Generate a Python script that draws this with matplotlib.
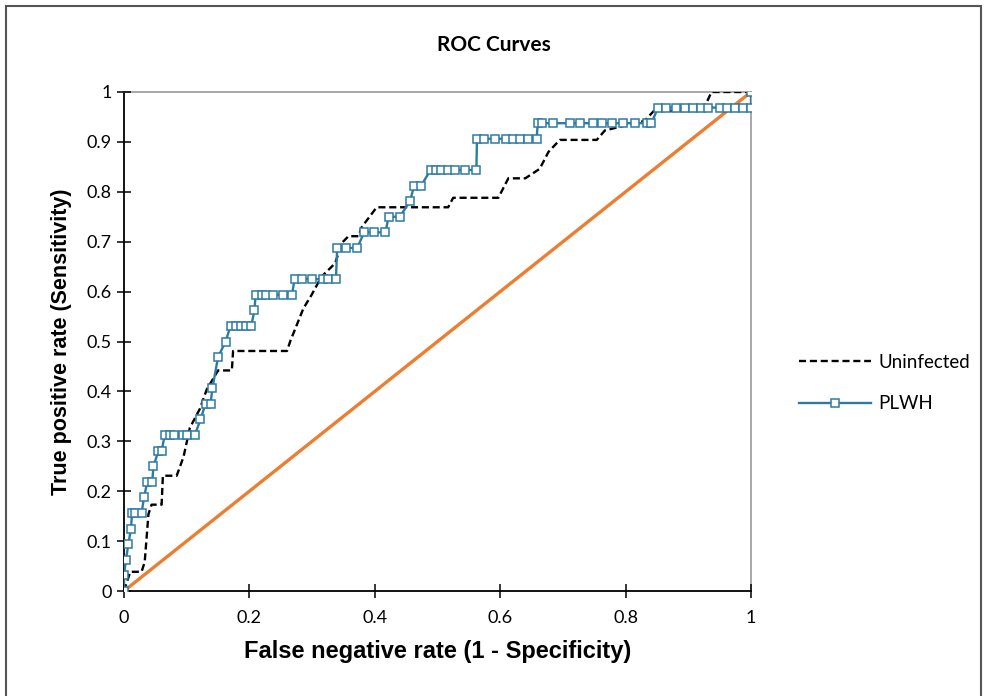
import matplotlib
matplotlib.use("Agg")
import matplotlib.pyplot as plt
from matplotlib.patches import Rectangle
from matplotlib.lines import Line2D
from matplotlib.ticker import FuncFormatter

# ---- data ------------------------------------------------------------------
plwh_fpr = [0.0, 0.0, 0.003, 0.007, 0.011,
            0.013, 0.018, 0.028, 0.032, 0.037, 0.045, 0.047, 0.055, 0.060,
            0.065, 0.073, 0.080, 0.094, 0.100, 0.113, 0.122, 0.130, 0.138,
            0.141, 0.150, 0.162, 0.170, 0.178, 0.186, 0.195, 0.203, 0.208,
            0.210, 0.220, 0.226, 0.238, 0.254, 0.268,
            0.272, 0.284, 0.300, 0.318, 0.326, 0.338,
            0.340, 0.354, 0.372, 0.383, 0.399, 0.417, 0.422, 0.440, 0.456,
            0.463, 0.474,
            0.489, 0.497, 0.506, 0.517, 0.528, 0.544, 0.562,
            0.563, 0.574, 0.592, 0.610, 0.620, 0.632, 0.645, 0.658,
            0.660, 0.666, 0.685, 0.711, 0.727, 0.748, 0.762, 0.778, 0.796,
            0.815, 0.834, 0.841,
            0.852, 0.865, 0.881, 0.895, 0.908, 0.921, 0.932, 0.951, 0.961,
            0.974, 0.988, 1.0, 1.0]
plwh_tpr = [0.0, 0.03125, 0.0625, 0.09375, 0.125,
            0.15625, 0.15625, 0.15625, 0.1875, 0.21875, 0.21875, 0.25, 0.28125, 0.28125,
            0.3125, 0.3125, 0.3125, 0.3125, 0.3125, 0.3125, 0.34375, 0.375, 0.375,
            0.40625, 0.46875, 0.5, 0.53125, 0.53125, 0.53125, 0.53125, 0.53125, 0.5625,
            0.59375, 0.59375, 0.59375, 0.59375, 0.59375, 0.59375,
            0.625, 0.625, 0.625, 0.625, 0.625, 0.625,
            0.6875, 0.6875, 0.6875, 0.71875, 0.71875, 0.71875, 0.75, 0.75, 0.78125,
            0.8125, 0.8125,
            0.84375, 0.84375, 0.84375, 0.84375, 0.84375, 0.84375, 0.84375,
            0.90625, 0.90625, 0.90625, 0.90625, 0.90625, 0.90625, 0.90625, 0.90625,
            0.9375, 0.9375, 0.9375, 0.9375, 0.9375, 0.9375, 0.9375, 0.9375, 0.9375,
            0.9375, 0.9375, 0.9375,
            0.96875, 0.96875, 0.96875, 0.96875, 0.96875, 0.96875, 0.96875, 0.96875, 0.96875,
            0.96875, 0.96875, 0.96875, 1.0]

unin_fpr = [0.0, 0.010, 0.028, 0.033, 0.039, 0.044, 0.060, 0.062, 0.084, 0.095,
            0.105, 0.121, 0.132, 0.150, 0.172, 0.174, 0.260, 0.265, 0.286, 0.299,
            0.315, 0.337, 0.347, 0.358, 0.374, 0.379, 0.403, 0.517, 0.525, 0.597,
            0.613, 0.640, 0.663, 0.677, 0.695, 0.754, 0.767, 0.830, 0.845, 0.920,
            0.930, 0.937, 1.0]
unin_tpr = [0.0, 0.0385, 0.0385, 0.058, 0.154, 0.173, 0.173, 0.231, 0.231, 0.269,
            0.327, 0.365, 0.404, 0.442, 0.442, 0.481, 0.481, 0.500, 0.566, 0.593,
            0.630, 0.657, 0.697, 0.711, 0.711, 0.729, 0.769, 0.769, 0.788, 0.788,
            0.827, 0.827, 0.846, 0.880, 0.904, 0.904, 0.923, 0.942, 0.962, 0.962,
            0.981, 1.0, 1.0]

ref_x = [0, 1]
ref_y = [0, 1]

BLUE = "#2f7aa3"
ORANGE = "#ed7d31"
UI = "Lato"

fig = plt.figure(figsize=(9.87, 6.96), dpi=100)
ax = fig.add_axes([124 / 987, 105 / 696, 627 / 987, 499 / 696])

ax.plot(ref_x, ref_y, color=ORANGE, lw=2.4, zorder=2)
ax.plot(unin_fpr, unin_tpr, color="black", lw=1.7, ls=(0, (3, 1.6)), zorder=3)
ax.plot(plwh_fpr, plwh_tpr, color=BLUE, lw=1.7, marker="s", ms=5.5, mfc="white",
        mec=BLUE, mew=1.1, zorder=4)

ax.set_xlim(0, 1); ax.set_ylim(0, 1)
ax.set_xticks([0, 0.2, 0.4, 0.6, 0.8, 1.0])
ax.set_yticks([i / 10 for i in range(11)])
fmt = FuncFormatter(lambda v, p: f"{v:g}")
ax.xaxis.set_major_formatter(fmt); ax.yaxis.set_major_formatter(fmt)
ax.tick_params(direction="inout", length=10, width=1.1, labelsize=13, color="black",
               pad=4)
ax.tick_params(axis="x", pad=9)
for lab in ax.get_xticklabels() + ax.get_yticklabels():
    lab.set_fontfamily(UI)
for s in ("left", "bottom"):
    ax.spines[s].set_color("black"); ax.spines[s].set_linewidth(1.3)
for s in ("top", "right"):
    ax.spines[s].set_color("#a0a0a0"); ax.spines[s].set_linewidth(1.3)
for s in ax.spines.values():
    s.set_zorder(1)

ax.set_xlabel("False negative rate (1 - Specificity)", fontsize=17, fontweight="bold",
              family="Liberation Sans", labelpad=10)
ax.set_ylabel("True positive rate (Sensitivity)", fontsize=15.5, fontweight="bold",
              family="Liberation Sans", labelpad=10)

fig.text(0.5, 1 - 45 / 696, "ROC Curves", ha="center", va="center", fontsize=15,
         fontweight="bold", family=UI)

handles = [Line2D([], [], color="black", lw=1.7, ls=(0, (3, 1.6))),
           Line2D([], [], color=BLUE, lw=1.7, marker="s", ms=5.5, mfc="white", mec=BLUE, mew=1.1)]
fig.legend(handles, ["Uninfected", "PLWH"], loc="center left", bbox_to_anchor=(790 / 987, 1 - 383 / 696),
           frameon=False, prop={"family": UI, "size": 13.5}, handlelength=3.8, labelspacing=1.3,
           handletextpad=0.4, borderpad=0)

fig.patches.append(Rectangle((6 / 987, -0.05), 975 / 987, 1.05 - 6 / 696, transform=fig.transFigure,
                             fill=False, ec="#555555", lw=1.5))

fig.savefig("out.png", dpi=100)
